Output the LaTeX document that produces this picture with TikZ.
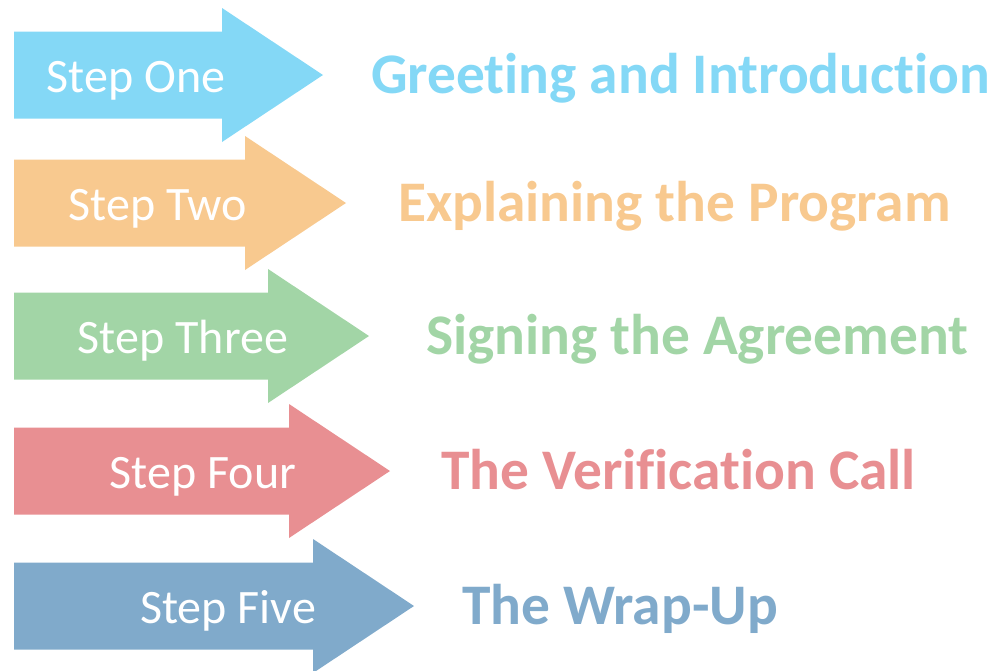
\documentclass[tikz,border=0pt]{standalone}
\usepackage{fontspec}
\setmainfont{Carlito}[RawFeature={-liga}]
\definecolor{oneColor}{RGB}{132,216,246}
\definecolor{twoColor}{RGB}{248,201,143}
\definecolor{threeColor}{RGB}{162,213,166}
\definecolor{fourColor}{RGB}{232,143,146}
\definecolor{fiveColor}{RGB}{128,170,203}

\begin{document}
\begin{tikzpicture}[x=0.03cm, y=-0.03cm,
    steplabel/.style={text=white, anchor=base, font=\fontsize{41}{41}\selectfont},
    titlelabel/.style={anchor=base west, font=\bfseries\fontsize{49}{49}\selectfont}]

    % 1. MARCO (proporciones del original)
    \useasboundingbox (0,0) rectangle (1005,671);

    % 2. FLECHAS, ETIQUETAS Y TITULOS
    \foreach \n/\col/\cy/\bx/\sx/\lx/\step/\title in {
        1/oneColor/75/222/136/367/One/Greeting and Introduction,
        2/twoColor/203/245/158/394/Two/Explaining the Program,
        3/threeColor/336/268/183/422/Three/Signing the Agreement,
        4/fourColor/471/289/203/437/Four/The Verification Call,
        5/fiveColor/606/313/228/458/Five/The Wrap-Up} {
        \fill[\col] (14,\cy-43.5) -- (\bx,\cy-43.5) -- (\bx,\cy-67) -- (\bx+101,\cy)
            -- (\bx,\cy+67) -- (\bx,\cy+43.5) -- (14,\cy+43.5) -- cycle;
        \node[steplabel] (step\n) at (\sx,\cy+17) {Step \step};
        \node[titlelabel, text=\col] (title\n) at (\lx,\cy+18) {\title};
    }

\end{tikzpicture}
\end{document}
